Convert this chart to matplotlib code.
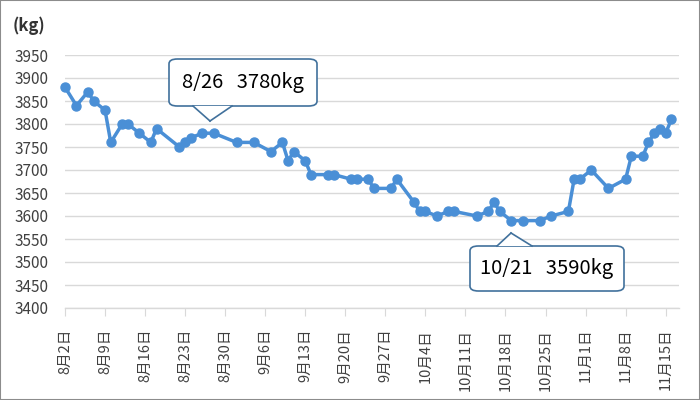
import numpy as np
import pandas as pd
import matplotlib
matplotlib.use('Agg')
import matplotlib.pyplot as plt
from matplotlib.patches import FancyBboxPatch, Polygon, Rectangle
from matplotlib.lines import Line2D

plt.rcParams['font.family'] = ['Noto Sans CJK JP', 'DejaVu Sans']

# 日付と体重
dates = ['8/2', '8/4', '8/6', '8/7', '8/9', '8/10', '8/12', '8/13', '8/15', '8/17',
         '8/18', '8/22', '8/23', '8/24', '8/26', '8/28',
         '9/1', '9/4', '9/7', '9/9', '9/10', '9/11', '9/13', '9/14', '9/17', '9/18',
         '9/21', '9/22', '9/24', '9/25', '9/28', '9/29',
         '10/2', '10/3', '10/4', '10/6', '10/8', '10/9', '10/13', '10/15', '10/16',
         '10/17', '10/19', '10/21', '10/24', '10/26', '10/29', '10/30', '10/31',
         '11/2', '11/5', '11/8', '11/9', '11/11', '11/12', '11/13', '11/14', '11/15',
         '11/16']
weights = [3880, 3840, 3870, 3850, 3830, 3760, 3800, 3800, 3780, 3760,
           3790, 3750, 3760, 3770, 3780, 3780,
           3760, 3760, 3740, 3760, 3720, 3740, 3720, 3690, 3690, 3690,
           3680, 3680, 3680, 3660, 3660, 3680,
           3630, 3610, 3610, 3600, 3610, 3610, 3600, 3610, 3630,
           3610, 3590, 3590, 3590, 3600, 3610, 3680, 3680,
           3700, 3660, 3680, 3730, 3730, 3760, 3780, 3790, 3780,
           3810]
yticks = list(range(3400, 4000, 50))
callouts = [('8/26', 3780), ('10/21', 3590)]

x = pd.to_datetime(['2021/' + d for d in dates])
start = pd.Timestamp('2021-08-02')
end = pd.Timestamp('2021-11-17') + pd.Timedelta(hours=8)
tick_dates = pd.date_range(start, pd.Timestamp('2021-11-15'), freq='7D')

fig = plt.figure(figsize=(7, 4), dpi=100)
ax = fig.add_axes([65 / 700, 1 - 308 / 400, (679 - 65) / 700, (308 - 55) / 400])

color = '#4A8FD6'
ax.plot(x, weights, color=color, lw=2.5, marker='o', ms=6.5, zorder=3,
        solid_joinstyle='round', clip_on=False)

ax.set_xlim(start, end)
ax.set_ylim(3400, 3950)
ax.set_yticks(yticks)
ax.yaxis.grid(True, color='#D9D9D9', lw=1)
ax.set_axisbelow(True)
for s in ['top', 'right', 'left']:
    ax.spines[s].set_visible(False)
ax.spines['bottom'].set_color('#D9D9D9')
ax.spines['bottom'].set_linewidth(1)
ax.tick_params(axis='y', length=0, labelsize=11, labelcolor='#404040', pad=12)
ax.set_xticks(tick_dates)
ax.set_xticklabels([f'{d.month}月{d.day}日' for d in tick_dates], rotation=90,
                   fontsize=10.5, color='#404040')
ax.tick_params(axis='x', length=6, color='#D9D9D9', pad=9)

fig.text(13 / 700, 1 - 26 / 400, '(kg)', fontsize=12, fontweight='bold',
         color='#333333', va='center', ha='left')


def px(xp, yp):
    return (xp / 700, 1 - yp / 400)


def callout(text, box, tip, base):
    x0, y0, x1, y1 = box
    l, b = px(x0, y1)
    r, t = px(x1, y0)
    patch = FancyBboxPatch((l, b), r - l, t - b, boxstyle='round,pad=0,rounding_size=0.012',
                           transform=fig.transFigure, facecolor='white',
                           edgecolor='#41719C', lw=1.2, zorder=5)
    fig.add_artist(patch)
    bl = px(base[0], base[2])
    br = px(base[1], base[2])
    tp = px(*tip)
    tri = Polygon([bl, tp, br], closed=True, transform=fig.transFigure,
                  facecolor='white', edgecolor='none', zorder=6)
    fig.add_artist(tri)
    for p in (bl, br):
        fig.add_artist(Line2D([p[0], tp[0]], [p[1], tp[1]], transform=fig.transFigure,
                              color='#41719C', lw=1.2, zorder=7))
    cx, cy = px((x0 + x1) / 2, (y0 + y1) / 2)
    fig.text(cx, cy, text, fontsize=14.5, ha='center', va='center', color='black',
             zorder=8)


callout(f'{callouts[0][0]}   {callouts[0][1]}kg', (169, 59, 317, 106),
        (210, 121), (193, 232, 106))
callout(f'{callouts[1][0]}   {callouts[1][1]}kg', (470, 246, 624, 291),
        (511, 233), (497, 532, 246))

fig.add_artist(Rectangle((0, 0), 1, 1, transform=fig.transFigure, fill=False,
                         edgecolor='#8C8C8C', lw=1.5))

fig.savefig('out.png', dpi=100)
